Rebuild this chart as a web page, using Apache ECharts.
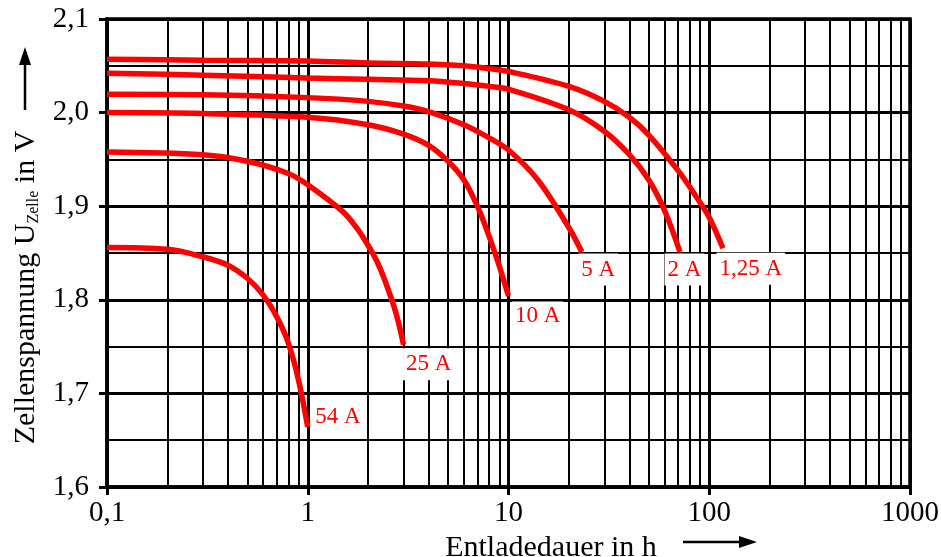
<!DOCTYPE html>
<html>
<head>
<meta charset="utf-8">
<title>Entladekurven</title>
<script src="https://cdn.jsdelivr.net/npm/echarts@6/dist/echarts.min.js"></script>
<style>
	html, body { margin: 0; padding: 0; background: #fff; }
	#chartsWrap { width: 941px; height: 557px; }
</style>
</head>
<body>
<div id="chartsWrap"></div>
<script>
// Werte: Entladedauer in h / Zellenspannung in V
let curveNames = ['1,25 A', '2 A', '5 A', '10 A', '25 A', '54 A'];

let x125 = [0.1, 0.3, 1, 2, 4, 6, 8, 10, 20, 30, 40, 50, 70, 85, 100, 117];
let y125 = [2.057, 2.056, 2.055, 2.053, 2.052, 2.050, 2.047, 2.044, 2.028, 2.012, 1.995, 1.976, 1.938, 1.912, 1.888, 1.855];

let x2 = [0.1, 0.3, 1, 2, 4, 6, 8, 10, 20, 30, 40, 50, 60, 71.5];
let y2 = [2.042, 2.040, 2.037, 2.0355, 2.034, 2.031, 2.028, 2.025, 2.003, 1.980, 1.955, 1.928, 1.895, 1.851];

let x5 = [0.1, 0.3, 1, 2, 3, 4, 6, 8, 10, 14, 20, 23.2];
let y5 = [2.0195, 2.019, 2.016, 2.012, 2.007, 2.001, 1.987, 1.973, 1.960, 1.928, 1.877, 1.851];

let x10 = [0.1, 0.3, 1, 2, 3, 4, 5, 6, 7, 8, 9, 10];
let y10 = [2.000, 1.999, 1.995, 1.987, 1.977, 1.965, 1.948, 1.928, 1.900, 1.868, 1.836, 1.804];

let x25 = [0.1, 0.3, 0.5, 0.8, 1, 1.5, 1.75, 2, 2.2, 2.4, 2.75, 3.0];
let y25 = [1.958, 1.955, 1.948, 1.935, 1.923, 1.894, 1.877, 1.858, 1.842, 1.823, 1.786, 1.752];

let x54 = [0.1, 0.2, 0.3, 0.4, 0.5, 0.6, 0.7, 0.8, 0.9, 1.0];
let y54 = [1.856, 1.854, 1.846, 1.837, 1.823, 1.805, 1.782, 1.754, 1.714, 1.664];

// Zwischenlinien der log. Achse
let minorX = [0.2, 0.3, 0.4, 0.5, 0.6, 0.7, 0.8, 0.9,
	2, 3, 4, 5, 6, 7, 8, 9,
	20, 30, 40, 50, 60, 70, 80, 90,
	200, 300, 400, 500, 600, 700, 800, 900];

let xMin = 0.1, xMax = 1000;
let yMin = 1.6, yMax = 2.1, yStep = 0.1;

let curveX = [x125, x2, x5, x10, x25, x54];
let curveY = [y125, y2, y5, y10, y25, y54];
// Lage der Beschriftung relativ zum Kurvenende (px)
let labelPos = [[-6, 5], [-15, 2], [-3, 2], [4, 6], [0, 4], [5, -26]];
let labelPad = [[3, 3, 3, 3], [3, 3, 3, 3], [3, 3, 3, 3], [1, 3, 3, 3], [3, 3, 3, 3], [3, 3, 3, 3]];

let font = 'Liberation Serif';
let red = '#ff0000';

let chart = echarts.init(document.getElementById('chartsWrap'));

let series = [];
// Nebengitter (senkrecht)
series.push({
	type: 'line',
	data: [],
	silent: true,
	z: 1,
	markLine: {
		silent: true,
		z: 1,
		symbol: ['none', 'none'],
		label: { show: false },
		lineStyle: { color: '#000', width: 2, type: 'solid' },
		data: minorX.map(v => ({ xAxis: v }))
	}
});

curveNames.map((name, index) => {
	let data = curveX[index].map((v, i) => [v, curveY[index][i]]);
	let last = data[data.length - 1];
	series.push({
		name: name,
		type: 'line',
		data: data,
		z: 3,
		smooth: 0.35,
		showSymbol: false,
		lineStyle: { color: red, width: 5.5, cap: 'butt' },
		markPoint: {
			silent: true,
			z: 4,
			symbol: 'rect',
			symbolSize: 1,
			itemStyle: { color: 'rgba(0,0,0,0)' },
			label: {
				show: true,
				position: labelPos[index],
				formatter: name,
				color: red,
				fontFamily: font,
				fontSize: 23,
				lineHeight: 26,
				backgroundColor: '#fff',
				padding: labelPad[index]
			},
			data: [{ coord: last }]
		}
	});
});

let option = {
	animation: false,
	grid: {
		left: 107,
		right: 31,
		top: 19,
		bottom: 70,
		outerBoundsMode: 'none',
		containLabel: false,
		show: true,
		borderColor: '#000',
		borderWidth: 3.5
	},
	xAxis: {
		type: 'log',
		logBase: 10,
		min: xMin,
		max: xMax,
		name: 'Entladedauer in h',
		nameLocation: 'middle',
		nameGap: 31,
		nameTextStyle: {
			fontFamily: font,
			fontSize: 30,
			lineHeight: 30,
			color: '#000',
			padding: [0, 0, 0, 85]
		},
		axisLine: { lineStyle: { color: '#000', width: 3.5 } },
		axisTick: { show: true, inside: false, length: 8, lineStyle: { color: '#000', width: 3 } },
		axisLabel: {
			margin: 12,
			fontFamily: font,
			fontSize: 29,
			lineHeight: 29,
			color: '#000',
			formatter: function(v) {
				return String(+v.toPrecision(4)).replace('.', ',');
			}
		},
		splitLine: { show: true, lineStyle: { color: '#000', width: 3 } }
	},
	yAxis: {
		type: 'value',
		min: yMin,
		max: yMax,
		interval: yStep,
		name: '{a|Zellenspannung U}{b|Zelle}{a| in V}',
		nameLocation: 'middle',
		nameRotate: 90,
		nameGap: 62,
		nameTextStyle: {
			fontFamily: font,
			fontSize: 30,
			color: '#000',
			padding: [0, 69, 0, 0],
			rich: {
				a: { fontFamily: font, fontSize: 30, lineHeight: 32, color: '#000' },
				b: { fontFamily: font, fontSize: 16, lineHeight: 16, color: '#000', verticalAlign: 'top', padding: [16, 0, 0, 0] }
			}
		},
		axisLine: { show: true, lineStyle: { color: '#000', width: 3.5 } },
		axisTick: { show: true, inside: false, length: 8, lineStyle: { color: '#000', width: 3 } },
		axisLabel: {
			margin: 18,
			fontFamily: font,
			fontSize: 29,
			color: '#000',
			formatter: function(v) {
				return v.toFixed(1).replace('.', ',');
			}
		},
		splitLine: { show: true, lineStyle: { color: '#000', width: 3 } },
		minorTick: { show: false, splitNumber: 2 },
		minorSplitLine: { show: true, lineStyle: { color: '#000', width: 2 } }
	},
	// Pfeile an den Achsenbeschriftungen
	graphic: [
		{ type: 'line', shape: { x1: 683, y1: 542, x2: 742, y2: 542 }, style: { stroke: '#000', lineWidth: 2.5 } },
		{ type: 'polygon', shape: { points: [[757, 542], [739, 536], [739, 548]] }, style: { fill: '#000' } },
		{ type: 'line', shape: { x1: 25, y1: 110, x2: 25, y2: 62 }, style: { stroke: '#000', lineWidth: 2.5 } },
		{ type: 'polygon', shape: { points: [[25, 47], [19, 65], [31, 65]] }, style: { fill: '#000' } }
	],
	series: series
};
chart.setOption(option);
</script>
</body>
</html>
